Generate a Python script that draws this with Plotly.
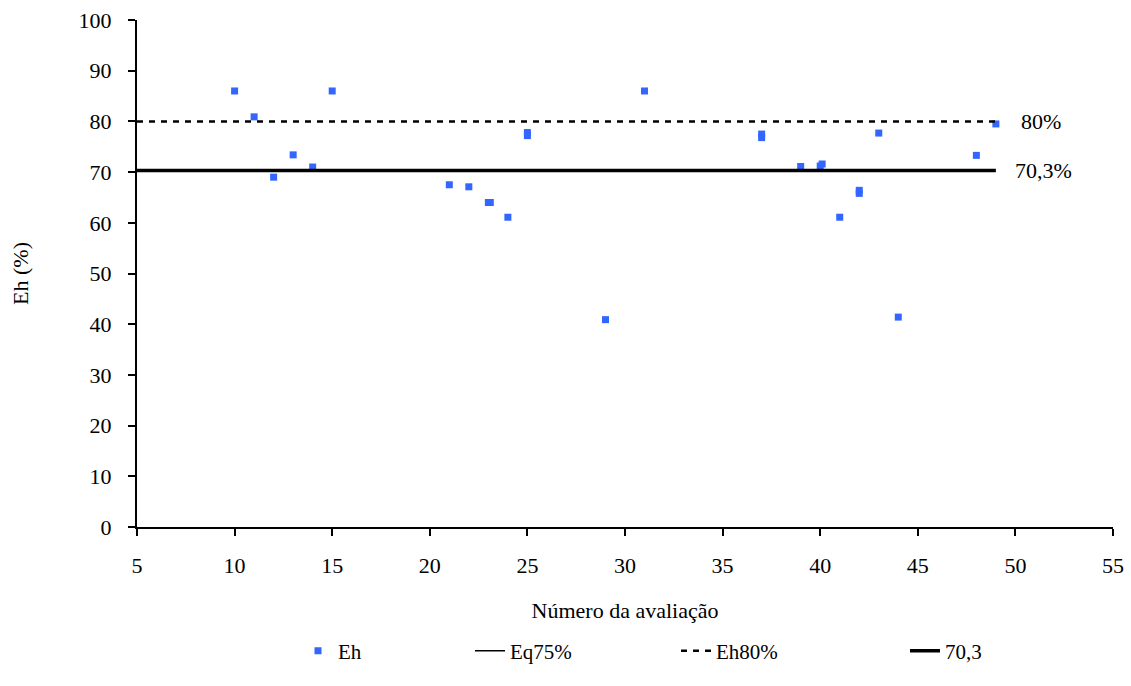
import plotly.graph_objects as go

# Data
eval_num = [10, 11, 12, 13, 14, 15, 21, 22, 23, 23.1, 24, 25, 25, 29, 31,
            37, 37, 39, 40, 40.1, 41, 42, 42, 43, 44, 48, 49]
eh_values = [86.0, 80.9, 69.0, 73.4, 71.0, 86.0, 67.5, 67.1, 64.0, 64.0, 61.1, 77.2, 77.8, 40.9, 86.0,
             76.8, 77.5, 71.1, 71.2, 71.6, 61.1, 65.8, 66.4, 77.7, 41.4, 73.3, 79.5]

line_x = [5, 49]
eh80_y = [80, 80]
ref703_y = [70.3, 70.3]

x_ticks = [5, 10, 15, 20, 25, 30, 35, 40, 45, 50, 55]
y_ticks = [0, 10, 20, 30, 40, 50, 60, 70, 80, 90, 100]

FONT = "Liberation Serif"
TICK_FS = 22
TITLE_FS = 22
LEG_FS = 21
W, H = 1131, 686

fig = go.Figure()

fig.add_trace(go.Scatter(
    x=eval_num, y=eh_values, mode="markers", name="Eh", legend="legend",
    marker=dict(symbol="square", size=7, color="#3366ff"),
))
fig.add_trace(go.Scatter(
    x=[None], y=[None], mode="lines", name="Eq75%", legend="legend2",
    line=dict(color="black", width=1.5),
))
fig.add_trace(go.Scatter(
    x=line_x, y=eh80_y, mode="lines", name="Eh80%", legend="legend3",
    line=dict(color="black", width=2.5, dash="6px,6px"),
))
fig.add_trace(go.Scatter(
    x=line_x, y=ref703_y, mode="lines", name="70,3", legend="legend4",
    line=dict(color="black", width=3.5),
))

fig.add_annotation(x=50.2, y=80, text="80%", showarrow=False, xanchor="left",
                   yanchor="middle", font=dict(family=FONT, size=TICK_FS, color="black"))
fig.add_annotation(x=49.9, y=70.3, text="70,3%", showarrow=False, xanchor="left",
                   yanchor="middle", font=dict(family=FONT, size=TICK_FS, color="black"))


def leg(px):
    return dict(orientation="h", x=px / W, xref="container", xanchor="left",
                y=1 - 651 / H, yref="container", yanchor="middle",
                font=dict(family=FONT, size=LEG_FS, color="black"),
                bgcolor="rgba(0,0,0,0)", borderwidth=0)


fig.update_layout(
    width=W, height=H,
    margin=dict(l=137, r=18, t=20, b=159),
    paper_bgcolor="white", plot_bgcolor="white",
    font=dict(family=FONT, size=TITLE_FS, color="black"),
    showlegend=True,
    legend=leg(298),
    legend2=leg(470),
    legend3=leg(676),
    legend4=leg(905),
)

fig.update_xaxes(
    range=[5, 55], tickvals=x_ticks, ticktext=[str(v) for v in x_ticks],
    showgrid=False, zeroline=False, automargin=False,
    showline=True, linecolor="black", linewidth=2,
    ticks="outside", ticklen=7, tickwidth=2, tickcolor="black",
    ticklabelstandoff=11,
    tickfont=dict(family=FONT, size=TICK_FS),
    title=dict(text="Número da avaliação", font=dict(family=FONT, size=TITLE_FS), standoff=25),
)
fig.update_yaxes(
    range=[0, 100], tickvals=y_ticks, ticktext=[str(v) for v in y_ticks],
    showgrid=False, zeroline=False, automargin=False,
    showline=True, linecolor="black", linewidth=2,
    ticks="outside", ticklen=7, tickwidth=2, tickcolor="black",
    ticklabelstandoff=12,
    tickfont=dict(family=FONT, size=TICK_FS),
    title=dict(text="Eh (%)", font=dict(family=FONT, size=TITLE_FS), standoff=44),
)

fig.write_html("out.html")
